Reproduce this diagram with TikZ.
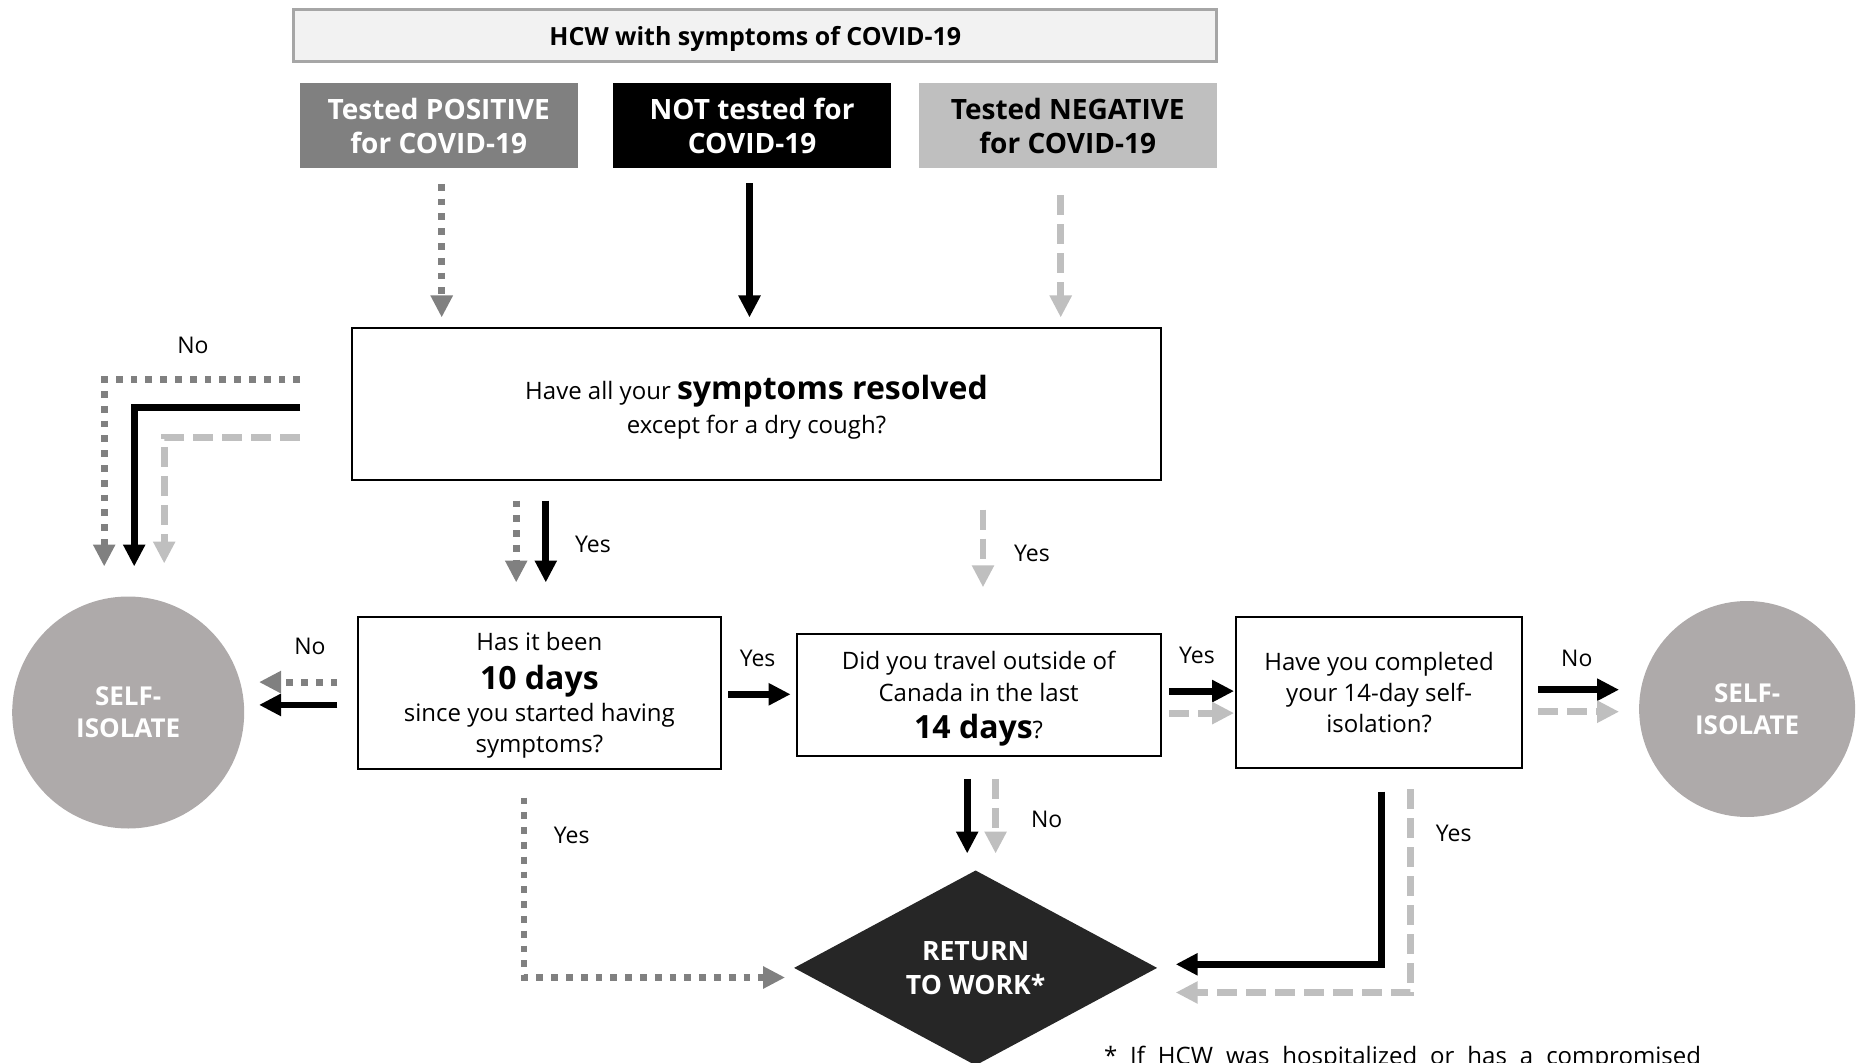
\documentclass[tikz,border=0pt]{standalone}
\usepackage{fontspec}
\setmainfont{Open Sans}
\usepackage{xcolor}
\usepackage{tikz}
\usetikzlibrary{positioning,shapes.geometric,arrows.meta}
\definecolor{PosGray}{HTML}{808080}
\definecolor{NegGray}{HTML}{BFBFBF}
\definecolor{IsoGray}{HTML}{AEAAAA}
\definecolor{TopFill}{HTML}{F2F2F2}
\definecolor{TopLine}{HTML}{A6A6A6}
\definecolor{WorkFill}{HTML}{262626}
\newcommand\bigq{\fontsize{16}{18}\selectfont\bfseries}

\begin{document}
\begin{tikzpicture}[
    x=0.5pt, y=-0.5pt,
    every node/.style={outer sep=0pt, inner sep=2pt, align=center,
font=\fontsize{12}{15.4}\selectfont},
    qbox/.style={draw, line width=1pt, fill=white},
    grp/.style={font=\fontsize{14}{17}\selectfont\bfseries, minimum width=139pt, minimum height=42.5pt},
    iso/.style={circle, fill=IsoGray, text=white, text depth=-2.5pt, font=\fontsize{13}{16}\selectfont\bfseries},
    lbl/.style={font=\fontsize{11.5}{14}\selectfont},
    posline/.style={draw=PosGray, line width=3.4pt, dash pattern=on 3.4pt off 4pt, -{Triangle[length=11pt,width=10.5pt]}},
    blkline/.style={draw=black, line width=3.4pt, -{Triangle[length=11pt,width=10.5pt]}},
    negline/.style={draw=NegGray, line width=3.4pt, dash pattern=on 10pt off 4.5pt, -{Triangle[length=11pt,width=10.5pt]}}]

    \useasboundingbox (0,0) rectangle (1856,1063);
    \clip (0,0) rectangle (1856,1063);

    \node[draw=TopLine, line width=1.5pt, fill=TopFill, minimum width=461.5pt, minimum height=26pt, text depth=-0.6pt,
font=\fontsize{12.5}{14}\selectfont\bfseries] (hcw) at (755.3,35.5) {HCW with symptoms of COVID-19};
        \node[grp, fill=black, text=white, below=11pt of hcw, xshift=-1.6pt] (nt) {NOT tested for\\COVID-19};
        \node[grp, fill=PosGray, text=white, left=17.7pt of nt] (pos) {Tested POSITIVE\\for COVID-19};
        \node[grp, fill=NegGray, minimum width=149pt, right=13.8pt of nt] (neg) {Tested NEGATIVE\\for COVID-19};

    \node[qbox, minimum width=404.8pt, minimum height=75.7pt, text depth=-4.1pt, below=80pt of nt, xshift=2.2pt] (res)
{Have all your {\bigq symptoms resolved}\\[1.4pt]except for a dry cough?};
        \node[qbox, minimum width=181.7pt, minimum height=76pt, text depth=-8.1pt, below=68.3pt of res.south west,
anchor=north west, xshift=3pt] (ten) {Has it been\\[3.8pt]{\bigq 10 days}\\[0.8pt]since you started having\\symptoms?};
            \node[iso, minimum size=116pt, left=56.75pt of ten, yshift=-10pt] (isol) {SELF-\\ISOLATE};
            \node[qbox, minimum width=182pt, minimum height=60.6pt, text depth=-0.1pt, right=37.75pt of ten, yshift=-1.2pt] (trv)
{Did you travel outside of\\[0.6pt]Canada in the last\\[3.2pt]{\bigq 14 days}?};
                \node[qbox, minimum width=143pt, minimum height=75.5pt, text depth=-2.4pt, right=37.75pt of trv, yshift=1.2pt] (cmp)
{Have you completed\\your 14-day self-\\isolation?};
                    \node[iso, minimum size=108pt, right=58.5pt of cmp, yshift=-8.25pt] (isor) {SELF-\\ISOLATE};
                \node[diamond, aspect=1.86, inner sep=0pt, minimum width=181.5pt, minimum height=97.4pt, fill=WorkFill,
text=white, text depth=-5.4pt, font=\fontsize{13.3}{17}\selectfont\bfseries, below=57.5pt of trv, xshift=-1.5pt] (rtw)
{RETURN\\TO WORK*};

    \node[anchor=base west, inner sep=0pt] (note) at (1104,1064)
{\makebox[298.5pt][s]{* If HCW was hospitalized or has a compromised}};

    \draw[posline, shorten <=7.7pt, shorten >=5.5pt] ([xshift=1.5pt]pos.south) -- ([xshift=1.5pt]pos.south |- res.north);
    \draw[blkline, shorten <=7.5pt, shorten >=5.5pt] ([xshift=-1.3pt]nt.south) -- ([xshift=-1.3pt]nt.south |- res.north);
    \draw[negline, shorten <=13.5pt, shorten >=5.5pt] ([xshift=-3.5pt]neg.south) -- ([xshift=-3.5pt]neg.south |- res.north);

    \draw[posline] ([xshift=-25.8pt,yshift=12.2pt]res.west) -| ([xshift=-12pt,yshift=15pt]isol.north);
    \draw[blkline] ([xshift=-25.8pt,yshift=-1.8pt]res.west) -| ([xshift=3pt,yshift=15pt]isol.north);
    \draw[negline] ([xshift=-25.8pt,yshift=-16.8pt]res.west) -| ([xshift=18pt,yshift=16.5pt]isol.north);
    \node[lbl] (no1) at (193,345) {No};

    \draw[posline, shorten <=10.3pt, shorten >=17pt] ([xshift=-11.6pt]ten.north |- res.south) -- ([xshift=-11.6pt]ten.north);
    \draw[blkline, shorten <=10.3pt, shorten >=17pt] ([xshift=3.2pt]ten.north |- res.south) -- ([xshift=3.2pt]ten.north);
    \node[lbl] (yes1) at (593,544) {Yes};
    \draw[negline, shorten <=14.8pt, shorten >=23.5pt] ([xshift=2.2pt]trv.north |- res.south) -- ([xshift=2.2pt]trv.north);
    \node[lbl] (yes2) at (1032,553) {Yes};

    \draw[posline, shorten <=10.2pt, shorten >=7.4pt] ([yshift=5.2pt]ten.west) -- ([yshift=5.2pt]ten.west -| isol.east);
    \draw[blkline, shorten <=10.2pt, shorten >=7.4pt] ([yshift=-6.2pt]ten.west) -- ([yshift=-6.2pt]ten.west -| isol.east);
    \node[lbl] (no2) at (310,646.5) {No};

    \draw[blkline, shorten <=3.5pt, shorten >=3pt] ([yshift=-0.9pt]ten.east) -- ([yshift=-0.9pt]ten.east -| trv.west);
    \node[lbl] (yes3) at (757.6,658) {Yes};

    \draw[blkline, shorten <=4.2pt, shorten >=1pt] ([yshift=1.9pt]trv.east) -- ([yshift=1.9pt]trv.east -| cmp.west);
    \draw[negline, shorten <=4.2pt, shorten >=1pt] ([yshift=-9.1pt]trv.east) -- ([yshift=-9.1pt]trv.east -| cmp.west);
    \node[lbl] (yes4) at (1197,655) {Yes};

    \draw[blkline, shorten <=8pt, shorten >=10pt] ([yshift=1.4pt]cmp.east) -- ([yshift=1.4pt]cmp.east -| isor.west);
    \draw[negline, shorten <=8pt, shorten >=10pt] ([yshift=-9.6pt]cmp.east) -- ([yshift=-9.6pt]cmp.east -| isor.west);
    \node[lbl] (no3) at (1576.8,658.3) {No};

    \draw[blkline, shorten <=11.7pt, shorten >=8.5pt] ([xshift=-5.7pt]trv.south) -- ([xshift=-5.7pt]trv.south |- rtw.north);
    \draw[negline, shorten <=11.7pt, shorten >=8.5pt] ([xshift=8.5pt]trv.south) -- ([xshift=8.5pt]trv.south |- rtw.north);
    \node[lbl] (no4) at (1046.7,819) {No};

    \draw[blkline, shorten <=11.8pt, shorten >=9.3pt] ([xshift=1pt]cmp.south) |- ([yshift=1.8pt]rtw.east);
    \draw[negline, shorten <=10.5pt, shorten >=9.3pt] ([xshift=15.5pt]cmp.south) |- ([yshift=-12.3pt]rtw.east);
    \node[lbl] (yes6) at (1453.7,833) {Yes};

    \draw[posline, shorten <=14.5pt, shorten >=4.5pt] ([xshift=-7.7pt]ten.south) |- ([yshift=-4.8pt]rtw.west);
    \node[lbl] (yes5) at (571.7,835.7) {Yes};

\end{tikzpicture}
\end{document}
